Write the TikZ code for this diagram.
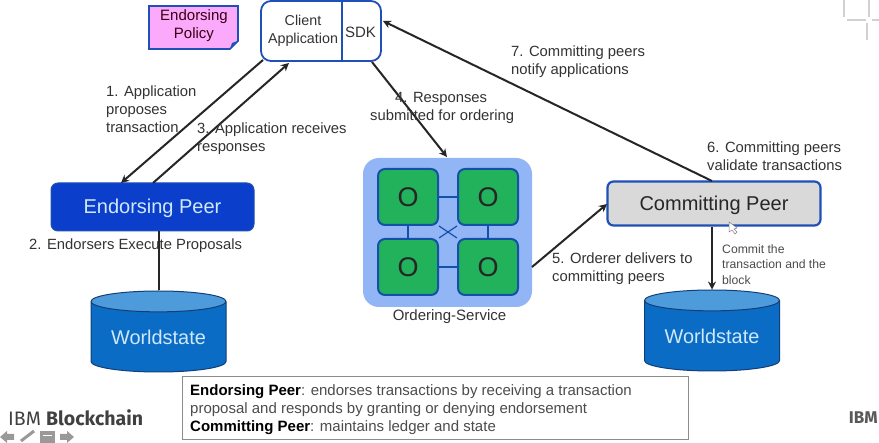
\documentclass[tikz,border=0pt]{standalone}
\usepackage{fontspec}
\setmainfont{Liberation Sans}
\newfontfamily\plexish{Fira Sans}
\usetikzlibrary{arrows.meta,shapes.geometric,calc}
\definecolor{edgeblue}{HTML}{1F4FB8}
\definecolor{peerblue}{HTML}{0B3FCB}
\definecolor{dbblue}{HTML}{0A6CC4}
\definecolor{dbtop}{HTML}{4E9BDB}
\definecolor{dbedge}{HTML}{123F78}
\definecolor{ordbg}{HTML}{92B5F5}
\definecolor{ordgreen}{HTML}{22B25C}
\definecolor{ordedge}{HTML}{1450A8}
\definecolor{policy}{HTML}{FBA9FB}
\definecolor{textgrey}{HTML}{333333}
\definecolor{wstext}{HTML}{CFE8FA}
\newcommand{\lowertext}[1]{\raisebox{-2pt}[14pt][4pt]{#1}}
\tikzset{
  lab/.style={font=\fontsize{14.8}{18}\selectfont,text=textgrey,align=left,inner sep=0pt},
  conn/.style={draw=black!85,line width=2pt},
  arr/.style={conn,-{Stealth[length=8pt,width=8pt]}},
  orderer/.style={draw=ordedge,line width=2pt,fill=ordgreen,rounded corners=7pt,minimum width=60pt,minimum height=56pt,inner sep=0pt,font=\fontsize{27}{27}\selectfont,text=black!85},
  ordlink/.style={draw=ordedge,line width=1.2pt},
  db/.style={cylinder,anchor=shape center,shape border rotate=90,draw=dbedge,line width=1pt,cylinder uses custom fill,cylinder body fill=dbblue,cylinder end fill=dbtop,aspect=0.22,minimum width=135pt,minimum height=81pt,inner sep=0pt,font=\fontsize{19.9}{20}\selectfont,text=wstext},
  cornermark/.style={draw=black!18,line width=1.6pt}
}
\begin{document}
\begin{tikzpicture}[x=1pt,y=-1pt]
\useasboundingbox (0,0) rectangle (879,443);
\fill[white] (0,0) rectangle (879,443);
% corner marks
\draw[cornermark] (844,0) -- (844,17) (847,20) -- (866,20) (869,0) -- (869,17) (872,20) -- (879,20) (867,23) -- (867,40);
% policy
\path[draw=edgeblue,line width=1.6pt,fill=policy] (149,6) -- (238,6) -- (238,41) -- (230,49) -- (149,49) -- cycle;
\fill[edgeblue] (238,41) -- (230,49) -- (232,43) -- cycle;
\node[lab,align=center,text=black!70!purple,font=\fontsize{15}{18}\selectfont] (policy) at (194,26) {Endorsing\\Policy};
% client
\draw[edgeblue,line width=1.8pt,fill=white,rounded corners=10pt] (261,1) rectangle (381,61);
\draw[edgeblue,line width=1.8pt] (342,1) -- (342,61);
\node[lab,align=center,font=\fontsize{14.3}{18.5}\selectfont] (client) at (303,31) {Client\\Application};
\node[lab,font=\fontsize{15}{16}\selectfont] (sdk) at (360.5,32) {SDK};
\coordinate (c1) at (263,60);
\coordinate (c3) at (289,63);
\coordinate (c4) at (372,62);
\coordinate (c7) at (383,21);
% endorsing peer
\node[draw=edgeblue,line width=1pt,fill=peerblue,rounded corners=7pt,minimum width=203pt,minimum height=48pt,inner sep=0pt,font=\fontsize{20}{20}\selectfont,text=wstext] (ep) at (152.5,207) {\lowertext{Endorsing Peer}};
% committing peer
\node[draw=edgeblue,line width=2.2pt,fill=black!15,rounded corners=6pt,minimum width=213pt,minimum height=44pt,inner sep=0pt,font=\fontsize{20}{20}\selectfont,text=black!85] (cp) at (714,203.5) {\lowertext{Committing Peer}};
% ordering
\node[fill=ordbg,rounded corners=16pt,minimum width=169pt,minimum height=149pt,inner sep=0pt] (os) at (447.5,232.5) {};
\node[orderer] (o1) at (408,197) {O};
\node[orderer] (o2) at (488,197) {O};
\node[orderer] (o3) at (408,267) {O};
\node[orderer] (o4) at (488,267) {O};
\draw[ordlink] (o1) -- (o2);
\draw[ordlink] (o3) -- (o4);
\draw[ordlink] (o1) -- (o3);
\draw[ordlink] (o2) -- (o4);
\draw[ordlink] (o1.south east) -- (o4.north west);
\draw[ordlink] (o2.south west) -- (o3.north east);
\node[lab,font=\fontsize{15}{15}\selectfont] (oslab) at (449.5,317) {Ordering-Service};
% worldstates
\node[db] (ws1) at (158.5,331.5) {Worldstate};
\node[db] (ws2) at (712,330.5) {Worldstate};
% connectors
\coordinate (e1) at (121,183);
\coordinate (e3) at (153,183);
\draw[arr] (c1) -- (e1);
\draw[arr] (e3) -- (c3);
\coordinate (o4top) at (447,157);
\draw[arr] (c4) -- (o4top);
\coordinate (cpt) at (712,181);
\draw[arr] (cpt) -- (c7);
\coordinate (os5) at (532,267);
\coordinate (cpl) at (607,204);
\draw[arr] (os5) -- (cpl);
\draw[conn] (ep.south -| ws1.shape center) -- (ws1.top);
\draw[arr] (cp.south -| ws2.shape center) -- (ws2.top);
% labels
\node[lab,anchor=north west] (l1) at (106,86) {1. Application\\proposes\\transaction};
\node[lab,anchor=north west] (l3) at (197,123) {3. Application receives\\responses};
\node[lab,anchor=north west] (l2) at (29,239) {2. Endorsers Execute Proposals};
\node[lab,anchor=north west] (l4) at (370,92) {\hspace*{25pt}4. Responses\\submitted for ordering};
\node[lab,anchor=north west] (l7) at (511,46) {7. Committing peers\\notify applications};
\node[lab,anchor=north west] (l6) at (707,142) {6. Committing peers\\validate transactions};
\node[lab,anchor=north west] (l5) at (552,253) {5. Orderer delivers to\\committing peers};
\node[lab,anchor=north west,font=\fontsize{12.2}{15.5}\selectfont,text=black!70] (l8) at (722,244) {Commit the\\transaction and the\\block};
% legend
\node[draw=black!45,line width=1.4pt,fill=white,inner sep=0pt,minimum width=506pt,minimum height=63pt,anchor=north west] (legend) at (182,376) {};
\node[lab,anchor=north west,font=\fontsize{15}{18}\selectfont,text=black!70] (legt) at (190,384) {\textcolor{black}{\textbf{Endorsing Peer}}: endorses transactions by receiving a transaction\\proposal and responds by granting or denying endorsement\\\textcolor{black}{\textbf{Committing Peer}}: maintains ledger and state};
% brand
\node[lab,anchor=west,font=\plexish\fontsize{19.5}{19.5}\selectfont,text=black!75] (brand) at (8,418) {IBM \textbf{Blockchain}};
\node[lab,anchor=east,font=\plexish\fontsize{17}{17}\selectfont\bfseries,text=black!65] (ibm) at (878,418) {IBM};
% nav icons
\fill[black!40] (0,437) -- (7,431) -- (7,434) -- (14,434) -- (14,440) -- (7,440) -- (7,443) -- cycle;
\draw[black!40,line width=3pt] (21,441) -- (34,431);
\fill[black!40] (40,431) rectangle (55,443);
\draw[white,line width=1pt] (43,436) -- (52,436);
\fill[black!40] (74,437) -- (67,431) -- (67,434) -- (60,434) -- (60,440) -- (67,440) -- (67,443) -- cycle;
% cursor
\fill[white,draw=black!50,line width=.5pt] (729,222) -- (729,232) -- (732,230) -- (735,234) -- (737,232) -- (734,229) -- (737,228) -- cycle;
\end{tikzpicture}
\end{document}
